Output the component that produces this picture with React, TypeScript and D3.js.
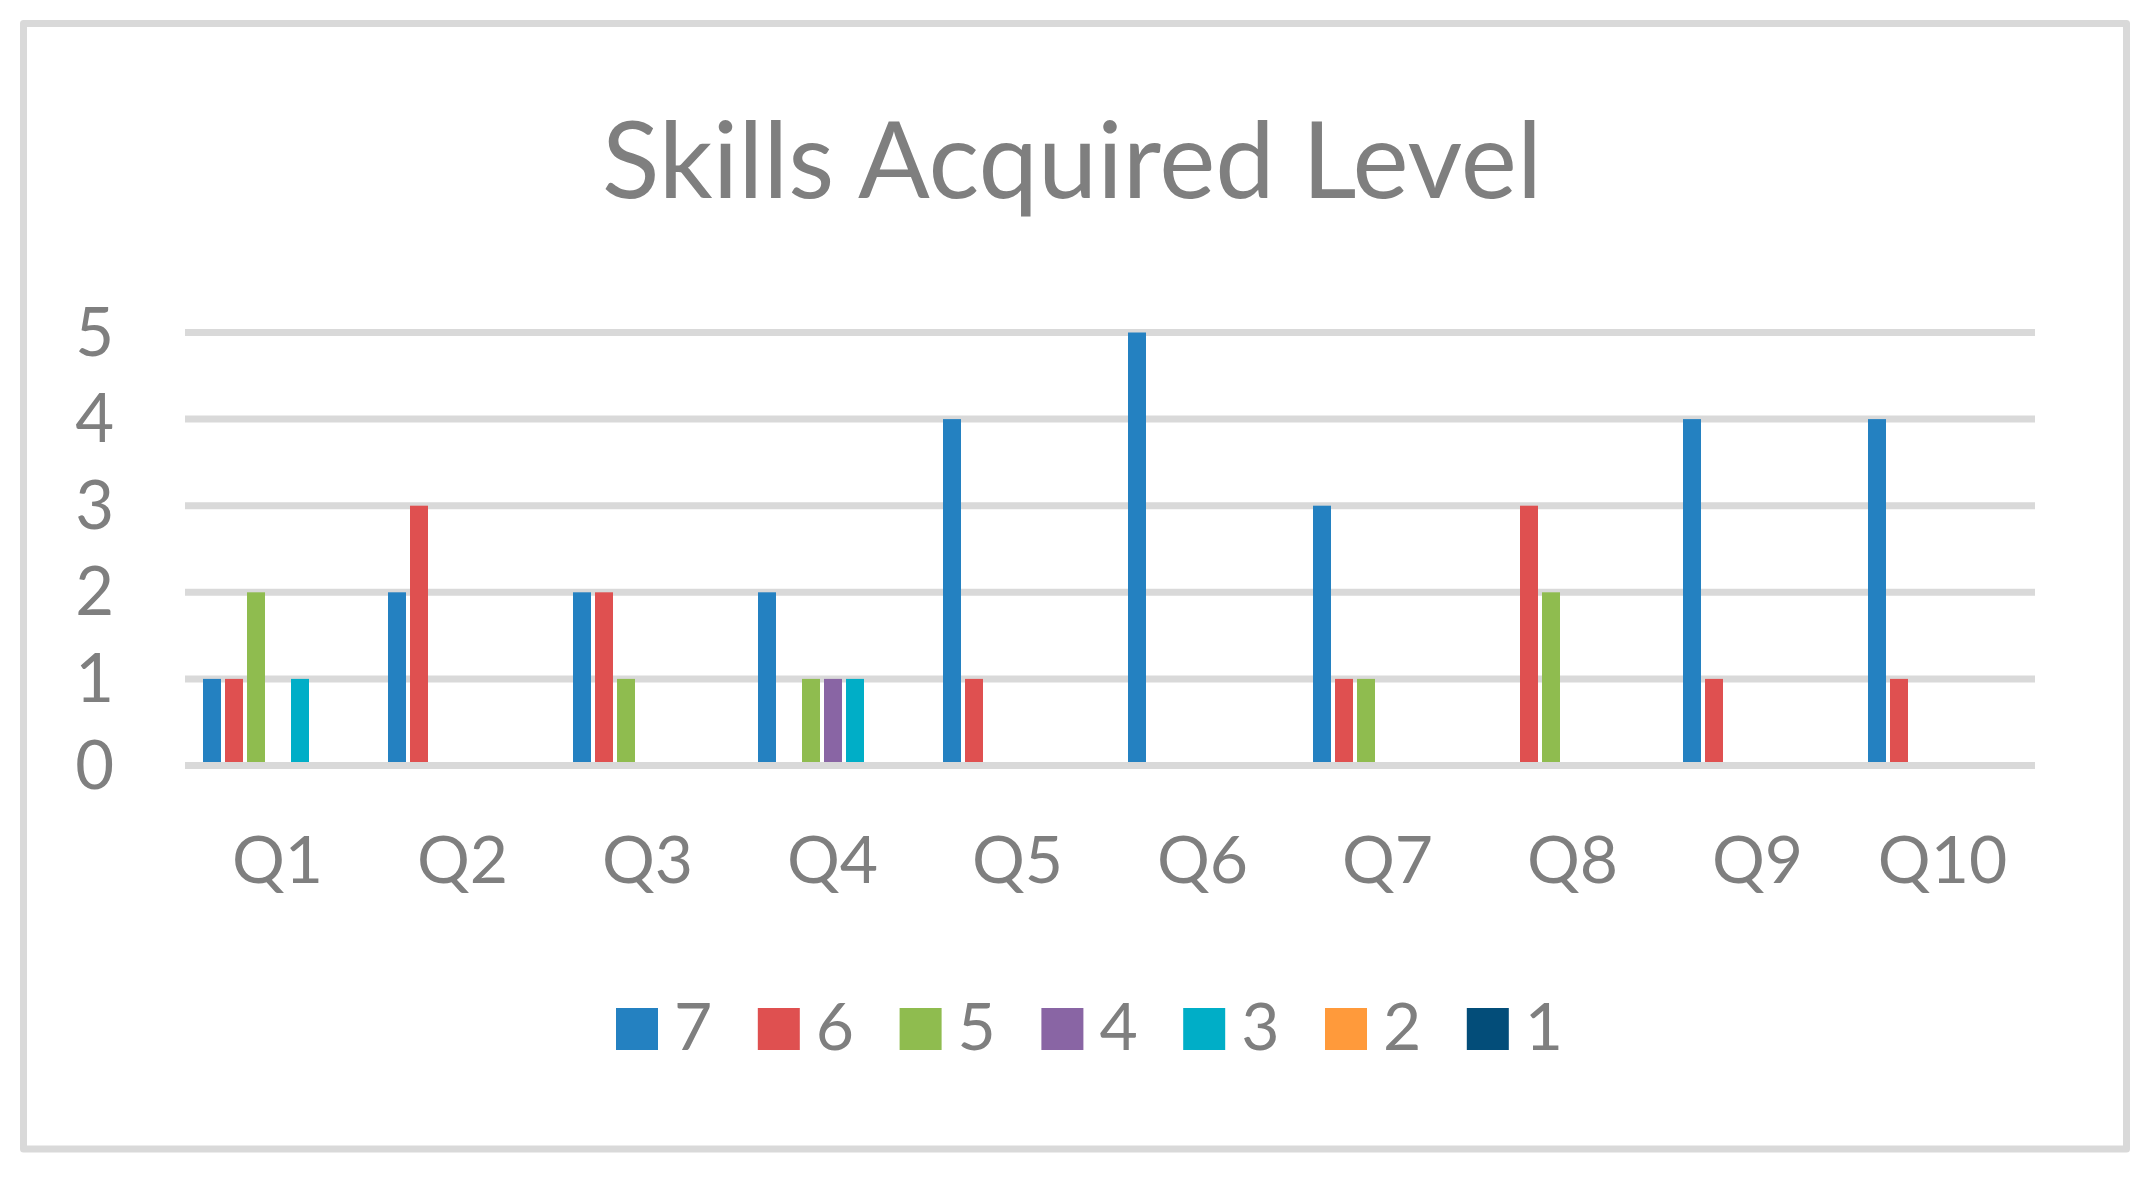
import React, { useRef, useEffect } from "react";
import * as d3 from "d3";

const QUESTIONS = ["Q1", "Q2", "Q3", "Q4", "Q5", "Q6", "Q7", "Q8", "Q9", "Q10"];
const LEVELS = ["7", "6", "5", "4", "3", "2", "1"];
const COLORS = ["#2481C1", "#DF5050", "#8FBC4F", "#8965A4", "#00AEC7", "#FF9A3B", "#034D79"];

// number of answers per level, one array per level, in question order
const LEVEL_7 = [1, 2, 2, 2, 4, 5, 3, 0, 4, 4];
const LEVEL_6 = [1, 3, 2, 0, 1, 0, 1, 3, 1, 1];
const LEVEL_5 = [2, 0, 1, 1, 0, 0, 1, 2, 0, 0];
const LEVEL_4 = [0, 0, 0, 1, 0, 0, 0, 0, 0, 0];
const LEVEL_3 = [1, 0, 0, 1, 0, 0, 0, 0, 0, 0];
const LEVEL_2 = [0, 0, 0, 0, 0, 0, 0, 0, 0, 0];
const LEVEL_1 = [0, 0, 0, 0, 0, 0, 0, 0, 0, 0];
const SERIES = [LEVEL_7, LEVEL_6, LEVEL_5, LEVEL_4, LEVEL_3, LEVEL_2, LEVEL_1];

const Y_TICKS = [0, 1, 2, 3, 4, 5];

const W = 2156, H = 1187;
const FONT = "Lato, 'Open Sans', sans-serif";
const GREY = "#7F7F7F";
const GRID = "#D9D9D9";

export default function App() {
    const svgRef = useRef<SVGSVGElement>(null);

    useEffect(() => {
        const svg = d3.select(svgRef.current);
        svg.selectAll("*").remove();

        const plot = { left: 185, right: 2035, top: 332.5, bottom: 765.5 };

        const x0 = d3.scaleBand<string>()
            .domain(QUESTIONS)
            .range([plot.left, plot.right]);

        const x1 = d3.scaleBand<string>()
            .domain(LEVELS)
            .range([18, 168])
            .paddingInner(4 / 22);

        const y = d3.scaleLinear()
            .domain([0, 5])
            .range([plot.bottom, plot.top]);

        // outer frame
        svg.append("rect")
            .attr("x", 23.5)
            .attr("y", 23.5)
            .attr("width", 2103)
            .attr("height", 1125.5)
            .attr("fill", "#fff")
            .attr("stroke", GRID)
            .attr("stroke-width", 7)
            .attr("stroke-linejoin", "round");

        // title
        svg.append("text")
            .attr("x", 1072)
            .attr("y", 198)
            .attr("text-anchor", "middle")
            .attr("textLength", 940)
            .attr("lengthAdjust", "spacingAndGlyphs")
            .style("font-family", FONT)
            .style("font-size", "106px")
            .style("fill", GREY)
            .text("Skills Acquired Level");

        // gridlines (zero line goes on top of the bars)
        svg.append("g")
            .selectAll("line")
            .data(Y_TICKS.filter(d => d > 0))
            .join("line")
            .attr("x1", plot.left)
            .attr("x2", plot.right)
            .attr("y1", d => y(d))
            .attr("y2", d => y(d))
            .attr("stroke", GRID)
            .attr("stroke-width", 7);

        // bars
        const rows = QUESTIONS.flatMap((q, qi) =>
            LEVELS.map((lv, li) => ({ q, lv, li, value: SERIES[li][qi] }))
        ).filter(d => d.value > 0);

        svg.append("g")
            .selectAll("rect")
            .data(rows)
            .join("rect")
            .attr("x", d => (x0(d.q) as number) + (x1(d.lv) as number))
            .attr("y", d => y(d.value))
            .attr("width", x1.bandwidth())
            .attr("height", d => y(0) - y(d.value))
            .attr("fill", d => COLORS[d.li]);

        svg.append("line")
            .attr("x1", plot.left)
            .attr("x2", plot.right)
            .attr("y1", y(0))
            .attr("y2", y(0))
            .attr("stroke", GRID)
            .attr("stroke-width", 7);

        // y labels
        svg.append("g")
            .selectAll("text")
            .data(Y_TICKS)
            .join("text")
            .attr("x", 114)
            .attr("y", d => y(d) + 23)
            .attr("text-anchor", "end")
            .style("font-family", FONT)
            .style("font-size", "67px")
            .style("fill", GREY)
            .text(d => d);

        // x labels
        svg.append("g")
            .selectAll("text")
            .data(QUESTIONS)
            .join("text")
            .attr("x", d => (x0(d) as number) + x0.bandwidth() / 2)
            .attr("y", 883)
            .attr("text-anchor", "middle")
            .style("font-family", FONT)
            .style("font-size", "66px")
            .style("fill", GREY)
            .text(d => d);

        // legend
        const legend = svg.append("g").attr("transform", "translate(616,1008)");
        const item = legend.selectAll("g")
            .data(LEVELS)
            .join("g")
            .attr("transform", (d, i) => `translate(${i * 141.8},0)`);
        item.append("rect")
            .attr("width", 42)
            .attr("height", 42)
            .attr("fill", (d, i) => COLORS[i]);
        item.append("text")
            .attr("x", 58)
            .attr("y", 42)
            .style("font-family", FONT)
            .style("font-size", "66px")
            .style("fill", GREY)
            .text(d => d);
    }, []);

    return (
        <svg
            ref={svgRef}
            width={W}
            height={H}
            style={{ position: "absolute", left: 0, top: 0, background: "#fff", display: "block" }}
        />
    );
}
